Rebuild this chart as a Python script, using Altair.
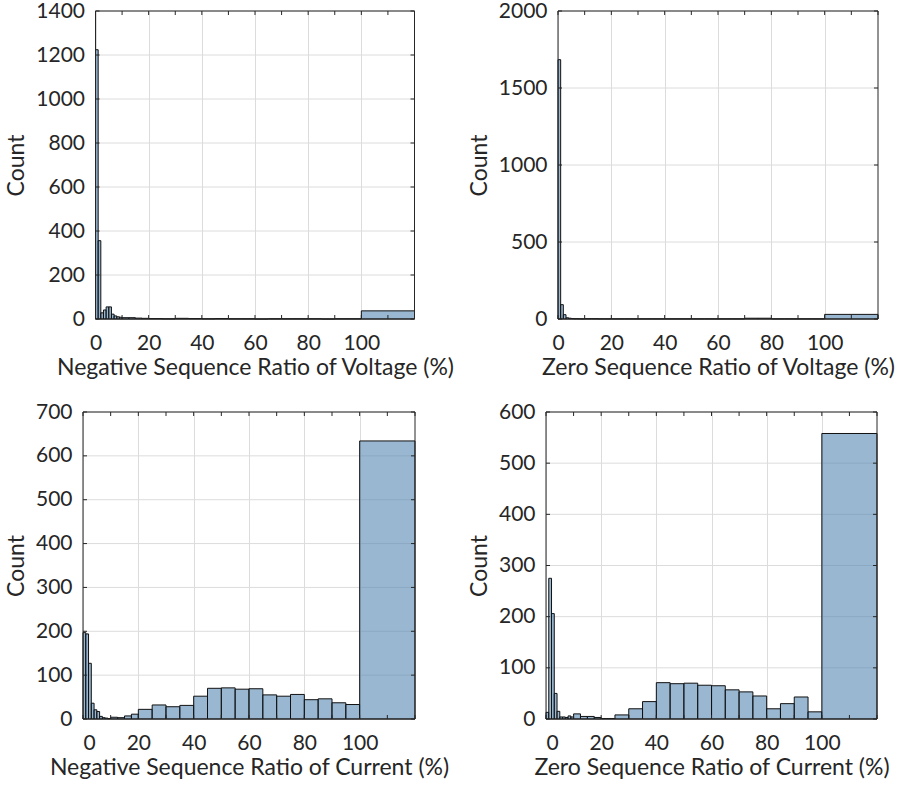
import altair as alt
import pandas as pd

# Histogram bin edges (percent), shared by all four panels
EDGES = [0, 1, 2, 3, 4, 5, 6, 7, 8, 9, 10, 12.5, 15, 17.5, 20,
         25, 30, 35, 40, 45, 50, 55, 60, 65, 70, 75, 80, 85, 90, 95, 100, 120]

# Counts per bin
NEG_SEQ_VOLTAGE = [1224, 356, 28, 41, 55, 55, 22, 14, 10, 8,
                   6, 6, 4, 3,
                   2, 1, 3, 2, 1, 2, 1, 1, 0, 1, 1, 1, 1, 0, 1, 1,
                   37]
ZERO_SEQ_VOLTAGE = [1684, 93, 28, 8, 5, 3, 2, 2, 1, 1,
                    2, 2, 1, 1,
                    1, 1, 1, 1, 1, 1, 1, 1, 1, 1, 5, 5, 1, 1, 1, 1,
                    30]
NEG_SEQ_CURRENT = [197, 194, 127, 36, 21, 17, 6, 3, 2, 1,
                   4, 3, 7, 11,
                   22, 32, 28, 31, 52, 70, 71, 68, 69, 55, 52, 56, 44, 46, 37, 33,
                   634]
ZERO_SEQ_CURRENT = [13, 275, 206, 50, 15, 4, 4, 3, 6, 4,
                    10, 5, 5, 3,
                    1, 8, 20, 34, 71, 69, 70, 66, 65, 57, 53, 45, 20, 30, 43, 14,
                    558]

X_MAX = 120
X_LABELS = [0, 20, 40, 60, 80, 100]
X_TICKS = [0, 10, 20, 30, 40, 50, 60, 70, 80, 90, 100, 110, 120]

Y_TICKS_NV = [0, 200, 400, 600, 800, 1000, 1200, 1400]
Y_TICKS_ZV = [0, 500, 1000, 1500, 2000]
Y_TICKS_NI = [0, 100, 200, 300, 400, 500, 600, 700]
Y_TICKS_ZI = [0, 100, 200, 300, 400, 500, 600]

INK = "#262626"
GRID = "#dcdcdc"
FILL = "#5587b1"
FONT = "Lato"
TICK_LEN = 4


def histogram(counts, y_ticks, x_title, width, height, inset=0):
    """Framed histogram; `inset` leaves blank pixels left of the frame so
    panels with wider tick labels sit further right in the grid."""
    total = width + inset
    x_lo = -inset * X_MAX / width
    bins = pd.DataFrame({"lo": EDGES[:-1], "hi": EDGES[1:], "count": counts})
    x_scale = alt.Scale(domain=[x_lo, X_MAX], nice=False, zero=False)
    y_scale = alt.Scale(domain=[y_ticks[0], y_ticks[-1]], nice=False)
    x_axis = alt.Axis(values=X_LABELS, grid=True, format="d", domain=False,
                      labelPadding=13, titlePadding=3,
                      titleX=inset + width / 2)
    y_axis = alt.Axis(values=y_ticks, grid=False, format="d", domain=False,
                      offset=-inset, labelPadding=11, titlePadding=7)

    def xenc(field):
        return alt.X(field, scale=x_scale, title=x_title, axis=x_axis)

    def yenc(field):
        return alt.Y(field, scale=y_scale, title="Count", axis=y_axis)

    yt = pd.DataFrame({"v": y_ticks})
    xt = pd.DataFrame({"v": X_TICKS})

    # horizontal grid lines inside the frame
    y_grid = alt.Chart(yt).mark_rule(color=GRID, strokeWidth=1).encode(
        y=yenc("v:Q"), x=alt.datum(0), x2=alt.datum(X_MAX))

    bars = alt.Chart(bins).mark_rect(
        fill=FILL, fillOpacity=0.6, stroke="#111111", strokeWidth=1
    ).encode(
        x=xenc("lo:Q"), x2="hi:Q",
        y=yenc("count:Q"), y2=alt.datum(0),
    )

    # box around the plotting area
    frame_v = alt.Chart(pd.DataFrame({"v": [0, X_MAX]})).mark_rule(
        color=INK, strokeWidth=1).encode(
        x=xenc("v:Q"), y=alt.value(0), y2=alt.value(height))
    frame_h = alt.Chart(pd.DataFrame({"v": [y_ticks[0], y_ticks[-1]]})).mark_rule(
        color=INK, strokeWidth=1).encode(
        y=yenc("v:Q"), x=alt.datum(0), x2=alt.datum(X_MAX))

    # inward tick marks on all four sides
    x_bottom = alt.Chart(xt).mark_rule(color=INK, strokeWidth=1).encode(
        x=xenc("v:Q"), y=alt.value(height), y2=alt.value(height - TICK_LEN))
    x_top = alt.Chart(xt).mark_rule(color=INK, strokeWidth=1).encode(
        x=xenc("v:Q"), y=alt.value(0), y2=alt.value(TICK_LEN))
    y_left = alt.Chart(yt).mark_rule(color=INK, strokeWidth=1).encode(
        y=yenc("v:Q"), x=alt.value(inset), x2=alt.value(inset + TICK_LEN))
    y_right = alt.Chart(yt).mark_rule(color=INK, strokeWidth=1).encode(
        y=yenc("v:Q"), x=alt.value(total - TICK_LEN), x2=alt.value(total))

    return alt.layer(
        y_grid, bars, frame_v, frame_h, x_bottom, x_top, y_left, y_right
    ).properties(width=total, height=height)


p1 = histogram(NEG_SEQ_VOLTAGE, Y_TICKS_NV, "Negative Sequence Ratio of Voltage (%)", 319, 308, inset=12.5)
p2 = histogram(ZERO_SEQ_VOLTAGE, Y_TICKS_ZV, "Zero Sequence Ratio of Voltage (%)", 320, 308, inset=12)
p3 = histogram(NEG_SEQ_CURRENT, Y_TICKS_NI, "Negative Sequence Ratio of Current (%)", 332, 307)
p4 = histogram(ZERO_SEQ_CURRENT, Y_TICKS_ZI, "Zero Sequence Ratio of Current (%)", 331, 307)

chart = alt.concat(
    p1, p2, p3, p4, columns=2,
    spacing={"row": 22, "column": 13},
).properties(
    padding={"left": 5, "top": 0, "right": 0, "bottom": 5}
).configure_view(
    strokeOpacity=0
).configure_axis(
    labelFont=FONT, titleFont=FONT,
    labelFontSize=21, titleFontSize=23,
    labelColor=INK, titleColor=INK,
    titleFontWeight="normal",
    ticks=False,
    gridColor=GRID, gridWidth=1,
)

chart.save("out.html", embed_options={"renderer": "svg", "actions": False})
